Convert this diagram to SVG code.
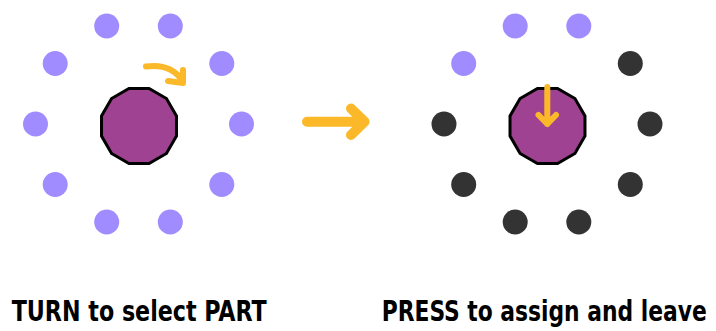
<svg xmlns="http://www.w3.org/2000/svg" width="716" height="331" viewBox="0 0 716 331">
<style>
.lit{fill:#a08cff}
.off{fill:#333333}
.knob{fill:#9f4291;stroke:#000;stroke-width:3;stroke-linejoin:miter}
.arw{fill:none;stroke:#fbb829;stroke-linecap:round;stroke-linejoin:round}
.lbl{font-family:"DejaVu Sans Condensed","Liberation Sans Narrow","Liberation Sans",sans-serif;font-weight:bold;font-size:28px;fill:#000;text-anchor:middle}
</style>
<defs>
<polygon id="dodeca" points="37.48,10.04 27.44,27.44 10.04,37.48 -10.04,37.48 -27.44,27.44 -37.48,10.04 -37.48,-10.04 -27.44,-27.44 -10.04,-37.48 10.04,-37.48 27.44,-27.44 37.48,-10.04"/>
</defs>
<rect width="716" height="331" fill="#fff"/>
<g id="left-knob">
<g id="left-dots">
<circle class="lit" cx="106.7" cy="26" r="12.5"/>
<circle class="lit" cx="170.3" cy="26" r="12.5"/>
<circle class="lit" cx="221.8" cy="63.5" r="12.5"/>
<circle class="lit" cx="241.5" cy="124" r="12.5"/>
<circle class="lit" cx="221.8" cy="184.5" r="12.5"/>
<circle class="lit" cx="170.3" cy="222" r="12.5"/>
<circle class="lit" cx="106.7" cy="222" r="12.5"/>
<circle class="lit" cx="55.2" cy="184.5" r="12.5"/>
<circle class="lit" cx="35.5" cy="124" r="12.5"/>
<circle class="lit" cx="55.2" cy="63.5" r="12.5"/>
</g>
<use href="#dodeca" class="knob" x="139" y="126"/>
<path class="arw" stroke-width="6" d="M146,66.5 Q170,63 182,80"/>
<path class="arw" stroke-width="6" d="M183,70 L183,83 L168,81"/>
</g>
<g id="right-knob">
<g id="right-dots">
<circle class="lit" cx="515.2" cy="26" r="12.5"/>
<circle class="lit" cx="578.8" cy="26" r="12.5"/>
<circle class="off" cx="630.3" cy="63.5" r="12.5"/>
<circle class="off" cx="650" cy="124" r="12.5"/>
<circle class="off" cx="630.3" cy="184.5" r="12.5"/>
<circle class="off" cx="578.8" cy="222" r="12.5"/>
<circle class="off" cx="515.2" cy="222" r="12.5"/>
<circle class="off" cx="463.7" cy="184.5" r="12.5"/>
<circle class="off" cx="444" cy="124" r="12.5"/>
<circle class="lit" cx="463.7" cy="63.5" r="12.5"/>
</g>
<use href="#dodeca" class="knob" x="547.5" y="126"/>
<path class="arw" stroke-width="6" d="M547.3,87 L547.3,124 M538.5,115 L547.3,124 L556,115"/>
</g>
<g id="connectors">
<path class="arw" stroke-width="10" d="M307,121.7 L364,121.7 M351,108.5 L364.5,121.7 L351,135"/>
</g>
<g id="labels">
<text class="lbl" x="139.2" y="320.5" textLength="255" lengthAdjust="spacingAndGlyphs">TURN to select PART</text>
<text class="lbl" x="544.2" y="320.5" textLength="325" lengthAdjust="spacingAndGlyphs">PRESS to assign and leave</text>
</g>
</svg>
